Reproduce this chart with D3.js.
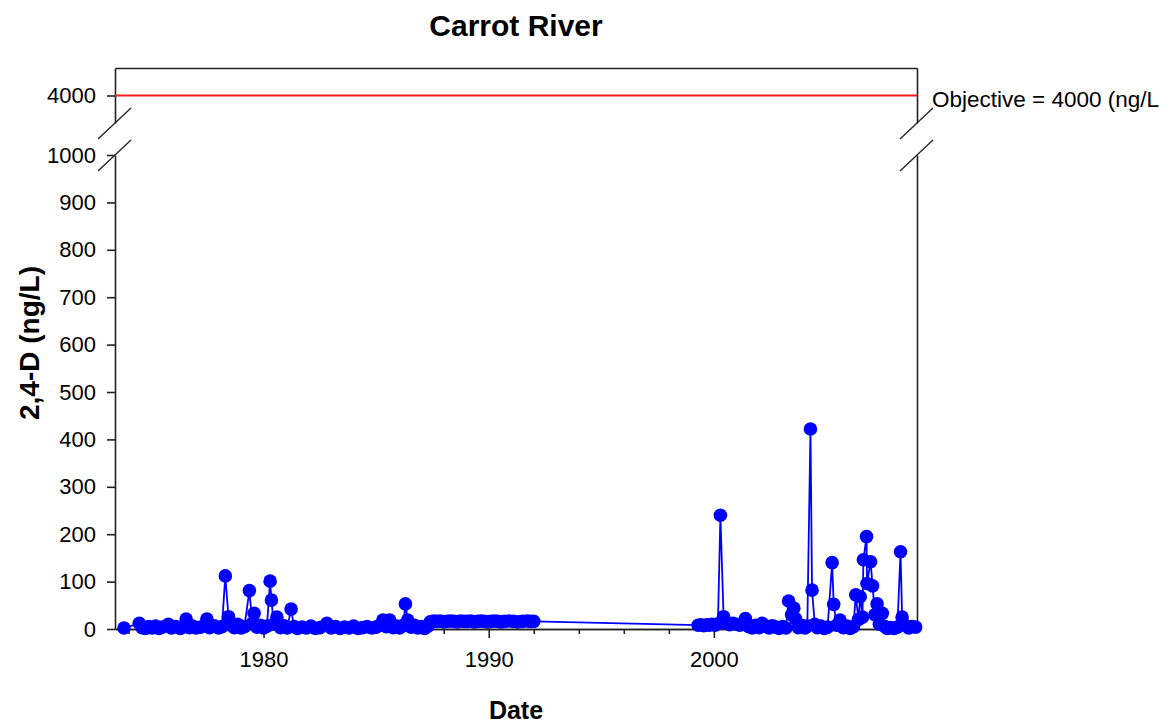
<!DOCTYPE html>
<html>
<head>
<meta charset="utf-8">
<script src="https://cdn.jsdelivr.net/npm/d3@7"></script>
<style>
  html, body { margin: 0; padding: 0; background: #fff; }
  svg { display: block; font-family: "Liberation Sans", Arial, sans-serif; }
</style>
</head>
<body>
<svg id="chart" width="1164" height="725"></svg>
<script>
// ---------------- DATA ----------------
const chartTitle = "Carrot River";
const xLabel = "Date";
const yLabel = "2,4-D (ng/L)";
const objectiveValue = 4000;
const objectiveLabel = "Objective = 4000 (ng/L";

const yTicksLower = [0, 100, 200, 300, 400, 500, 600, 700, 800, 900, 1000];
const yTicksUpper = [4000];
const xMajorYears = [1980, 1990, 2000];
const xMinorYears = [1974, 1976, 1978, 1982, 1984, 1986, 1988, 1992, 1994, 1996, 1998, 2002, 2004, 2006, 2008];

// sample dates (decimal years)
const sampleYears = [
  1973.8, 1974.48, 1974.6, 1974.75, 1974.9, 1975.05, 1975.2, 1975.35, 1975.5, 1975.77,
  1975.9, 1976.1, 1976.3, 1976.56, 1976.7, 1976.85, 1977.0, 1977.2, 1977.48, 1977.6,
  1977.8, 1978.0, 1978.15, 1978.30, 1978.44, 1978.55, 1978.7, 1978.85, 1979.0, 1979.15,
  1979.37, 1979.5, 1979.58, 1979.7, 1979.85, 1980.0, 1980.15, 1980.29, 1980.35, 1980.45,
  1980.59, 1980.75, 1980.9, 1981.05, 1981.22, 1981.35, 1981.5, 1981.7, 1981.9, 1982.1,
  1982.3, 1982.5, 1982.81, 1983.0, 1983.2, 1983.4, 1983.6, 1983.8, 1984.0, 1984.2,
  1984.4, 1984.6, 1984.8, 1985.0, 1985.15, 1985.3, 1985.45, 1985.6, 1985.75, 1985.9,
  1986.05, 1986.2, 1986.3, 1986.4, 1986.55, 1986.7, 1986.85, 1987.0, 1987.15, 1987.3,
  1987.4, 1987.55, 1987.7, 1987.85, 1988.0, 1988.15, 1988.3, 1988.45, 1988.6, 1988.75,
  1988.9, 1989.05, 1989.2, 1989.35, 1989.5, 1989.65, 1989.8, 1989.95, 1990.1, 1990.25,
  1990.4, 1990.55, 1990.7, 1990.9, 1991.1, 1991.3, 1991.5, 1991.7, 1991.85, 1992.0,
  1999.3, 1999.42, 1999.55, 1999.68, 1999.8, 1999.92, 2000.05, 2000.18, 2000.29, 2000.43,
  2000.55, 2000.7, 2000.85, 2001.0, 2001.15, 2001.4, 2001.55, 2001.7, 2001.85, 2002.0,
  2002.14, 2002.3, 2002.45, 2002.6, 2002.75, 2002.9, 2003.05, 2003.2, 2003.32, 2003.45,
  2003.55, 2003.62, 2003.75, 2003.9, 2004.05, 2004.15, 2004.29, 2004.36, 2004.48, 2004.6,
  2004.75, 2004.9, 2005.05, 2005.25, 2005.32, 2005.45, 2005.6, 2005.75, 2005.9, 2006.05,
  2006.2, 2006.3, 2006.42, 2006.5, 2006.6, 2006.64, 2006.78, 2006.8, 2006.96, 2007.05,
  2007.15, 2007.25, 2007.35, 2007.48, 2007.6, 2007.7, 2007.85, 2008.0, 2008.15, 2008.29,
  2008.36, 2008.5, 2008.65, 2008.8, 2008.96
];

// 2,4-D concentrations (ng/L)
const concentrations = [
  2, 12, 3, 1, 5, 2, 6, 1, 4, 10,
  2, 5, 1, 21, 3, 6, 2, 4, 21, 3,
  7, 2, 5, 112, 26, 8, 3, 10, 2, 5,
  81, 12, 33, 4, 8, 2, 6, 101, 61, 10,
  25, 3, 7, 2, 42, 5, 1, 4, 2, 6,
  1, 3, 12, 2, 5, 1, 4, 2, 6, 1,
  3, 5, 2, 4, 8, 19, 5, 19, 3, 6,
  2, 8, 53, 19, 4, 8, 2, 5, 1, 6,
  15, 17, 16, 17, 15, 16, 17, 16, 15, 17,
  16, 16, 17, 15, 16, 17, 16, 15, 16, 17,
  16, 15, 16, 17, 16, 15, 16, 17, 16, 16,
  8, 9, 7, 9, 8, 10, 8, 11, 240, 26,
  12, 9, 12, 10, 8, 22, 5, 2, 8, 3,
  12, 6, 2, 7, 4, 1, 5, 2, 59, 30,
  44, 22, 3, 8, 2, 6, 422, 82, 10, 3,
  6, 1, 4, 140, 52, 8, 19, 3, 6, 1,
  5, 72, 20, 68, 25, 146, 195, 96, 142, 91,
  30, 53, 10, 33, 5, 1, 3, 1, 4, 163,
  25, 8, 2, 5, 4
];

// ---------------- CHART ----------------
const svg = d3.select("#chart");
const plotLeft = 115, plotRight = 917, plotTop = 68, plotBottom = 629;
const lowerTop = 155, upperBottom = 123;

function yearToDate(y) {
  const yr = Math.floor(y);
  const start = new Date(yr, 0, 1), end = new Date(yr + 1, 0, 1);
  return new Date(start.getTime() + (y - yr) * (end - start));
}

const x = d3.scaleTime()
  .domain([yearToDate(1973.4), yearToDate(2009.02)])
  .range([plotLeft, plotRight]);
const yLow = d3.scaleLinear().domain([0, 1000]).range([plotBottom, lowerTop]);
const yUp = d3.scaleLinear().domain([3500, 4500]).range([upperBottom, plotTop]);

const data = sampleYears.map((t, i) => ({ date: yearToDate(t), value: concentrations[i] }));
const yPos = v => v > 1000 ? yUp(v) : yLow(v);

const axisColor = "#222";
const fontTick = 22;

function styleAxis(g) {
  g.selectAll("path.domain").attr("stroke", axisColor).attr("stroke-width", 1.6);
  g.selectAll(".tick line").attr("stroke", axisColor).attr("stroke-width", 1.6);
  g.selectAll(".tick text").attr("fill", "#000").attr("font-size", fontTick)
    .attr("font-family", "'Liberation Sans', Arial, sans-serif");
}

// left axes
svg.append("g").attr("transform", `translate(${plotLeft},0)`)
  .call(d3.axisLeft(yLow).tickValues(yTicksLower).tickSize(8).tickSizeOuter(0).tickPadding(11).tickFormat(d3.format("d")))
  .call(styleAxis);
svg.append("g").attr("transform", `translate(${plotLeft},0)`)
  .call(d3.axisLeft(yUp).tickValues(yTicksUpper).tickSize(8).tickSizeOuter(0).tickPadding(11).tickFormat(d3.format("d")))
  .call(styleAxis);
// right frame segments
svg.append("g").attr("transform", `translate(${plotRight},0)`)
  .call(d3.axisRight(yLow).tickValues([]).tickSizeOuter(0)).call(styleAxis);
svg.append("g").attr("transform", `translate(${plotRight},0)`)
  .call(d3.axisRight(yUp).tickValues([]).tickSizeOuter(0)).call(styleAxis);
// top frame
svg.append("g").attr("transform", `translate(0,${plotTop})`)
  .call(d3.axisTop(x).tickValues([]).tickSizeOuter(0)).call(styleAxis);

// x axis minor ticks
svg.append("g").attr("transform", `translate(0,${plotBottom})`)
  .call(d3.axisBottom(x).tickValues(xMinorYears.map(yearToDate)).tickSize(5).tickSizeOuter(0).tickFormat(""))
  .call(styleAxis);
// x axis major ticks
svg.append("g").attr("transform", `translate(0,${plotBottom})`)
  .call(d3.axisBottom(x).tickValues(xMajorYears.map(yearToDate)).tickSize(9).tickSizeOuter(0)
    .tickPadding(13).tickFormat(d3.timeFormat("%Y")))
  .call(styleAxis);

// break marks
[plotLeft, plotRight].forEach(bx => {
  [upperBottom, lowerTop].forEach(by => {
    svg.append("line")
      .attr("x1", bx - 17).attr("y1", by + 16)
      .attr("x2", bx + 16).attr("y2", by - 15)
      .attr("stroke", axisColor).attr("stroke-width", 1.3);
  });
});

// objective line
svg.append("line")
  .attr("x1", plotLeft).attr("x2", plotRight)
  .attr("y1", yUp(objectiveValue)).attr("y2", yUp(objectiveValue))
  .attr("stroke", "#ff1a1a").attr("stroke-width", 1.8);
svg.append("text")
  .attr("x", plotRight + 15).attr("y", yUp(objectiveValue) + 11)
  .attr("font-size", 22.5).attr("fill", "#000")
  .text(objectiveLabel);

// data line
const line = d3.line().x(d => x(d.date)).y(d => yPos(d.value));
svg.append("path").datum(data)
  .attr("d", line).attr("fill", "none")
  .attr("stroke", "#0000ff").attr("stroke-width", 1.8);
svg.append("g").selectAll("circle").data(data).join("circle")
  .attr("cx", d => x(d.date)).attr("cy", d => yPos(d.value))
  .attr("r", 6.8).attr("fill", "#0000ff");

// titles
svg.append("text").attr("x", (plotLeft + plotRight) / 2).attr("y", 36)
  .attr("text-anchor", "middle").attr("font-size", 30).attr("font-weight", "bold")
  .text(chartTitle);
svg.append("text").attr("x", (plotLeft + plotRight) / 2).attr("y", 719)
  .attr("text-anchor", "middle").attr("font-size", 25).attr("font-weight", "bold")
  .text(xLabel);
svg.append("text")
  .attr("transform", `translate(39, 343) rotate(-90)`)
  .attr("text-anchor", "middle").attr("font-size", 28).attr("font-weight", "bold")
  .text(yLabel);
</script>
</body>
</html>
